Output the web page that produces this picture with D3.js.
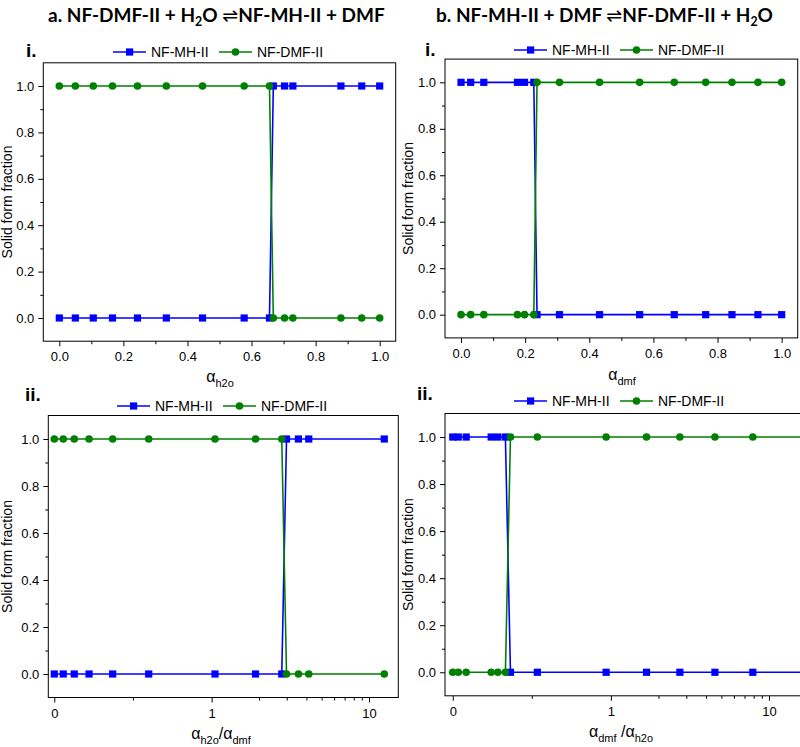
<!DOCTYPE html>
<html><head><meta charset="utf-8">
<script src="https://cdn.jsdelivr.net/npm/d3@7"></script>
<style>body{margin:0;background:#fff}svg{display:block}.ttl{white-space:pre}</style>
</head><body>
<svg id="c" width="800" height="747"></svg>
<script>
// ---- data ----
const aI_x   = [0, 0.05, 0.106, 0.166, 0.244, 0.334, 0.447, 0.577, 0.656, 0.668, 0.703, 0.729, 0.879, 0.944, 1.0];
const aI_mh  = [0, 0, 0, 0, 0, 0, 0, 0, 0, 1, 1, 1, 1, 1, 1];
const aI_dmf = [1, 1, 1, 1, 1, 1, 1, 1, 1, 0, 0, 0, 0, 0, 0];

const bI_x   = [0, 0.03, 0.071, 0.176, 0.198, 0.227, 0.237, 0.307, 0.432, 0.557, 0.665, 0.763, 0.845, 0.926, 1.0];
const bI_mh  = [1, 1, 1, 1, 1, 1, 0, 0, 0, 0, 0, 0, 0, 0, 0];
const bI_dmf = [0, 0, 0, 0, 0, 0, 1, 1, 1, 1, 1, 1, 1, 1, 1];

const aII_x   = [0, 0.057, 0.127, 0.221, 0.371, 0.6, 1.05, 1.9, 2.79, 2.99, 3.56, 4.14, 12.5];
const aII_mh  = [0, 0, 0, 0, 0, 0, 0, 0, 0, 1, 1, 1, 1];
const aII_dmf = [1, 1, 1, 1, 1, 1, 1, 1, 1, 0, 0, 0, 0];

const bII_x   = [0, 0.035, 0.085, 0.243, 0.285, 0.333, 0.365, 0.535, 0.97, 1.68, 2.73, 4.55, 7.9, 20];
const bII_mh  = [1, 1, 1, 1, 1, 1, 0, 0, 0, 0, 0, 0, 0, 0];
const bII_dmf = [0, 0, 0, 0, 0, 0, 1, 1, 1, 1, 1, 1, 1, 1];

const yTicks = [0, 0.2, 0.4, 0.6, 0.8, 1.0];
const yMinor = [0.1, 0.3, 0.5, 0.7, 0.9];
const linTicks = [0, 0.2, 0.4, 0.6, 0.8, 1.0];
const linMinor = [0.1, 0.3, 0.5, 0.7, 0.9];
const mixTicks = [0, 1, 10];
const mixMinor = [0.5, 2, 3, 4, 5, 6, 7, 8, 9];
const seriesNames = ["NF-MH-II", "NF-DMF-II"];

const BLUE = "#0000ff", GREEN = "#008000";
const svg = d3.select("#c");

// mixed axis transform: linear 0..1, log10 above 1
const tf = v => v <= 1 ? v : 1 + Math.log10(v);

// ---- titles (pieces laid out one after another, scaled to fit width) ----
function title(x, parts, width) {
  const g = svg.append("g");
  const mk = (fs) => {
    g.selectAll("*").remove();
    let cx = x;
    parts.forEach(p => {
      const sub = p[1] === 1;
      const t = g.append("text").attr("class", "ttl").attr("x", cx).attr("y", 22 + (sub ? 4 : 0))
        .attr("font-family", p[2] ? "'DejaVu Sans', sans-serif" : "Lato, 'Open Sans', sans-serif")
        .attr("font-weight", p[2] ? "normal" : "bold")
        .attr("font-size", sub ? fs * 0.65 : fs).text(p[0]);
      cx += t.node().getComputedTextLength();
    });
    return cx - x;
  };
  const w = mk(20);
  mk(20 * width / w);
}
title(48, [["a. NF-DMF-II + H"], ["2", 1], ["O "], ["\u21CC", 0, 1], ["NF-MH-II + DMF"]], 337);
title(436, [["b. NF-MH-II + DMF "], ["\u21CC", 0, 1], ["NF-DMF-II + H"], ["2", 1], ["O"]], 337);

let clipId = 0;
function panel(cfg) {
  const {x, y, X, MH, DMF, label, lx, ly, legY, legX, ylx, xlab, xlx, xly, mixed} = cfg;
  const g = svg.append("g");
  const id = "clip" + (clipId++);
  svg.append("clipPath").attr("id", id).append("rect")
    .attr("x", x.range()[0]).attr("y", y.range()[1])
    .attr("width", x.range()[1] - x.range()[0]).attr("height", y.range()[0] - y.range()[1]);
  const xp = v => x(mixed ? tf(v) : v);

  const x0 = x.range()[0], x1 = x.range()[1], y0 = y.range()[0], y1 = y.range()[1];
  g.append("rect").attr("x", x0).attr("y", y1).attr("width", x1 - x0).attr("height", y0 - y1)
    .attr("fill", "none").attr("stroke", "#000").attr("stroke-width", 1);

  const fy = d3.format(".1f");
  g.append("g").attr("transform", `translate(${x0},0)`)
    .call(d3.axisLeft(y).tickValues(yTicks).tickFormat(fy).tickSize(5).tickPadding(4).tickSizeOuter(0));
  g.append("g").attr("transform", `translate(${x0},0)`)
    .call(d3.axisLeft(y).tickValues(yMinor).tickFormat("").tickSize(3).tickSizeOuter(0));
  if (mixed) {
    g.append("g").attr("transform", `translate(0,${y0})`)
      .call(d3.axisBottom(x).tickValues(mixTicks.map(tf)).tickFormat((d, i) => mixTicks[i]).tickSize(5).tickPadding(6).tickSizeOuter(0));
    g.append("g").attr("transform", `translate(0,${y0})`)
      .call(d3.axisBottom(x).tickValues(mixMinor.map(tf)).tickFormat("").tickSize(3).tickSizeOuter(0));
  } else {
    g.append("g").attr("transform", `translate(0,${y0})`)
      .call(d3.axisBottom(x).tickValues(linTicks).tickFormat(fy).tickSize(5).tickPadding(6).tickSizeOuter(0));
    g.append("g").attr("transform", `translate(0,${y0})`)
      .call(d3.axisBottom(x).tickValues(linMinor).tickFormat("").tickSize(3).tickSizeOuter(0));
  }
  g.selectAll(".domain").remove();
  g.selectAll(".tick text").attr("font-family", "Arial, 'Liberation Sans', sans-serif").attr("font-size", 13).attr("fill", "#000");
  g.selectAll(".tick line").attr("stroke", "#000");

  const pl = g.append("g").attr("clip-path", `url(#${id})`);
  [[MH, BLUE, "sq"], [DMF, GREEN, "ci"]].forEach(([vals, col, mk]) => {
    const pts = X.map((v, i) => [xp(v), y(vals[i])]);
    pl.append("path").attr("d", d3.line()(pts)).attr("fill", "none").attr("stroke", col).attr("stroke-width", 1.6);
    pts.forEach(p => {
      if (mk === "sq") pl.append("rect").attr("x", p[0] - 3.6).attr("y", p[1] - 3.6).attr("width", 7.2).attr("height", 7.2).attr("fill", col);
      else pl.append("circle").attr("cx", p[0]).attr("cy", p[1]).attr("r", 3.8).attr("fill", col);
    });
  });

  const lg = g.append("g").attr("transform", `translate(${legX},${legY})`);
  [[0, BLUE, "sq", seriesNames[0]], [106, GREEN, "ci", seriesNames[1]]].forEach(([dx, col, mk, nm]) => {
    lg.append("line").attr("x1", dx).attr("x2", dx + 33).attr("y1", 0).attr("y2", 0).attr("stroke", col).attr("stroke-width", 1.6);
    if (mk === "sq") lg.append("rect").attr("x", dx + 13).attr("y", -3.6).attr("width", 7.2).attr("height", 7.2).attr("fill", col);
    else lg.append("circle").attr("cx", dx + 16.5).attr("cy", 0).attr("r", 3.8).attr("fill", col);
    lg.append("text").attr("x", dx + 38).attr("y", 5).text(nm)
      .attr("font-family", "Arial, 'Liberation Sans', sans-serif").attr("font-size", 14);
  });

  svg.append("text").attr("x", lx).attr("y", ly).text(label)
    .attr("font-family", "Arial, 'Liberation Sans', sans-serif").attr("font-weight", "bold").attr("font-size", 19);

  svg.append("text").attr("transform", `translate(${ylx},${(y0 + y1) / 2}) rotate(-90)`)
    .attr("text-anchor", "middle").text("Solid form fraction")
    .attr("font-family", "Arial, 'Liberation Sans', sans-serif").attr("font-size", 14);

  const xt = svg.append("text").attr("x", xlx).attr("y", xly).attr("text-anchor", "middle")
    .attr("class", "ttl")
    .attr("font-family", "Arial, 'Liberation Sans', sans-serif").attr("font-size", 16);
  xlab.forEach(p => {
    const s = xt.append("tspan").text(p[0]);
    if (p[1] === 1) s.attr("font-size", 11).attr("dy", 5);
    if (p[1] === -1) s.attr("dy", -5);
  });
}

panel({
  x: d3.scaleLinear().domain([-0.05, 1.05]).range([43.3, 395.7]),
  y: d3.scaleLinear().domain([-0.1, 1.1]).range([341.2, 62.8]),
  X: aI_x, MH: aI_mh, DMF: aI_dmf, label: "i.", lx: 26, ly: 57,
  legX: 113, legY: 52, ylx: 12, xlab: [["\u03B1"], ["h2o", 1]], xlx: 220, xly: 382
});
panel({
  x: d3.scaleLinear().domain([-0.05, 1.05]).range([445, 797.7]),
  y: d3.scaleLinear().domain([-0.1, 1.1]).range([337.9, 59.1]),
  X: bI_x, MH: bI_mh, DMF: bI_dmf, label: "i.", lx: 425, ly: 56,
  legX: 514, legY: 50, ylx: 413, xlab: [["\u03B1"], ["dmf", 1]], xlx: 622, xly: 380
});
panel({
  x: d3.scaleLinear().domain([-0.038, 2.186]).range([48.3, 398.3]), mixed: true,
  y: d3.scaleLinear().domain([-0.1, 1.1]).range([697.5, 415.5]),
  X: aII_x, MH: aII_mh, DMF: aII_dmf, label: "ii.", lx: 25, ly: 401,
  legX: 117, legY: 406, ylx: 12, xlab: [["\u03B1"], ["h2o", 1], ["/\u03B1", -1], ["dmf", 1]], xlx: 221, xly: 739
});
panel({
  x: d3.scaleLinear().domain([-0.049, 2.215]).range([445, 803]), mixed: true,
  y: d3.scaleLinear().domain([-0.1, 1.1]).range([695.8, 413.5]),
  X: bII_x, MH: bII_mh, DMF: bII_dmf, label: "ii.", lx: 417, ly: 400,
  legX: 514, legY: 401, ylx: 413, xlab: [["\u03B1"], ["dmf", 1], [" /\u03B1", -1], ["h2o", 1]], xlx: 621, xly: 737
});
</script>
</body></html>
